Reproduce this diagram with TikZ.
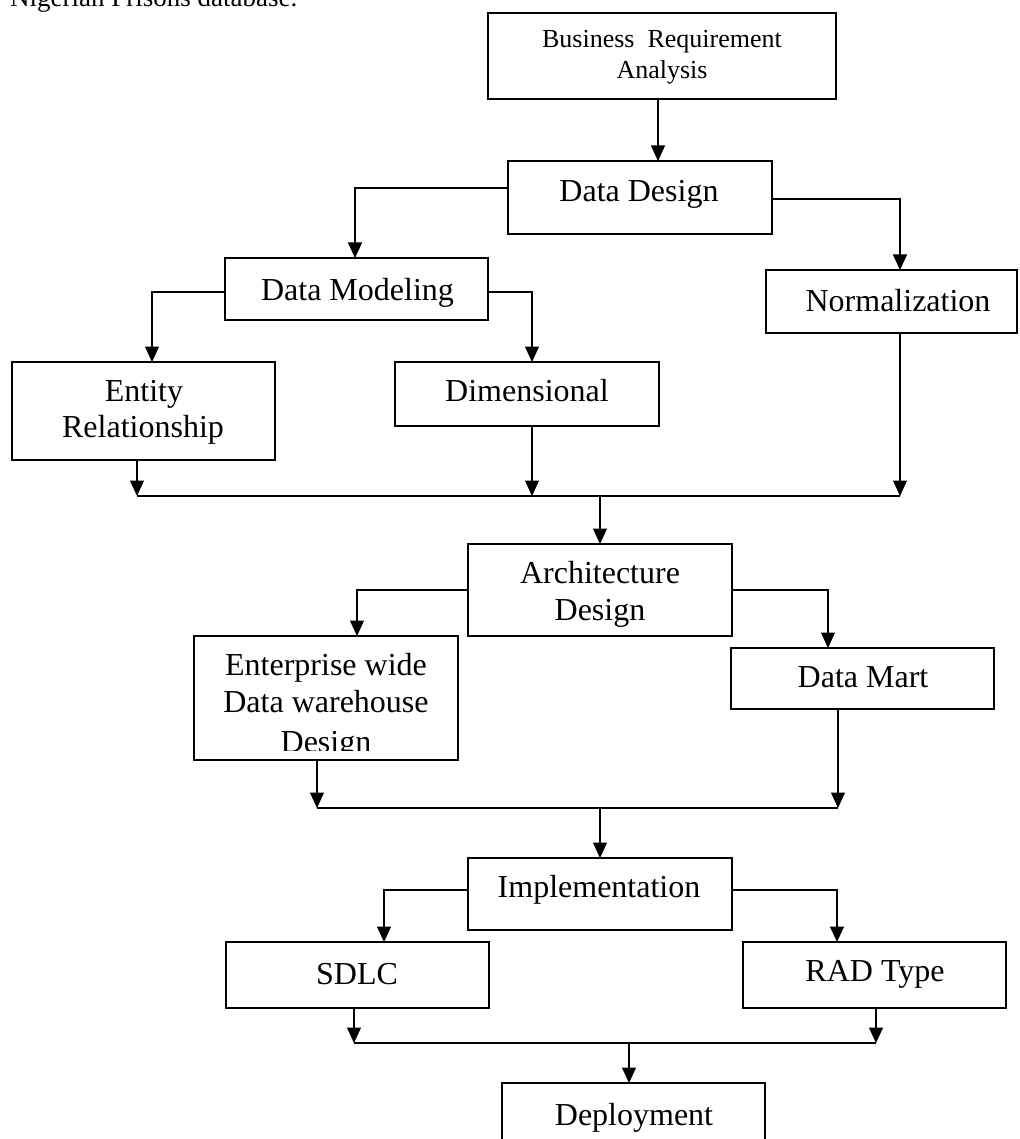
\documentclass[tikz,border=0pt]{standalone}
\usepackage{fontspec}
\setmainfont{Liberation Serif}
\usetikzlibrary{arrows.meta}
\tikzset{
  box/.style={draw, line width=1.3pt, inner sep=0pt, outer sep=0pt},
  lbl/.style={font=\fontsize{32}{37}\selectfont, inner sep=0pt, anchor=base},
  lblsm/.style={font=\fontsize{26}{31}\selectfont, inner sep=0pt, anchor=base},
  conn/.style={line width=1.2pt},
  arr/.style={conn, -{Triangle[length=15.5pt,width=14pt]}},
}
\begin{document}
\begin{tikzpicture}[x=1pt,y=-1pt]
\useasboundingbox (0,0) rectangle (1019,1139);
\clip (0,0) rectangle (1019,1139);

% intro text (clipped at top, as in the reference)
\node[font=\fontsize{27}{32}\selectfont, anchor=base west, inner sep=0pt] (intro) at (10,7) {Nigerian Prisons database.};

% boxes
\node[box, minimum width=348pt, minimum height=86pt] (bra) at (662,56) {};
\node[box, minimum width=264pt, minimum height=73pt] (dd) at (640,197.5) {};
\node[box, minimum width=263pt, minimum height=62pt] (dm) at (356.5,289) {};
\node[box, minimum width=251pt, minimum height=63pt] (norm) at (891.5,301.5) {};
\node[box, minimum width=263pt, minimum height=98pt] (er) at (143.5,411) {};
\node[box, minimum width=264pt, minimum height=64pt] (dim) at (527,394) {};
\node[box, minimum width=264pt, minimum height=92pt] (arch) at (600,590) {};
\node[box, minimum width=264pt, minimum height=124pt] (edw) at (326,698) {};
\node[box, minimum width=263pt, minimum height=61pt] (dmart) at (862.5,678.5) {};
\node[box, minimum width=264pt, minimum height=72pt] (impl) at (600,894) {};
\node[box, minimum width=263pt, minimum height=66pt] (sdlc) at (357.5,975) {};
\node[box, minimum width=263pt, minimum height=66pt] (rad) at (874.5,975) {};
\node[box, minimum width=263pt, minimum height=77pt] (dep) at (633.5,1121.5) {};

% texts
\node[lblsm] (bra-t1) at (662,48) {Business\ \ Requirement};
\node[lblsm] (bra-t2) at (662,79) {Analysis};
\node[lbl] (dd-t) at (639,202) {Data Design};
\node[lbl] (dm-t) at (357.5,300) {Data Modeling};
\node[lbl] (norm-t) at (898,311) {Normalization};
\node[lbl] (er-t1) at (144,401) {Entity};
\node[lbl] (er-t2) at (143,437) {Relationship};
\node[lbl] (dim-t) at (527,401) {Dimensional};
\node[lbl] (arch-t1) at (600,583) {Architecture};
\node[lbl] (arch-t2) at (600,620) {Design};
\node[lbl] (edw-t1) at (326,675) {Enterprise wide};
\node[lbl] (edw-t2) at (326,712) {Data warehouse};
\begin{scope}
  \clip (194,636) rectangle (458,750);
  \node[lbl] (edw-t3) at (326,752) {Design};
\end{scope}
\node[lbl] (dmart-t) at (863,687) {Data Mart};
\node[lbl] (impl-t) at (599,897) {Implementation};
\node[lbl] (sdlc-t) at (357,984) {SDLC};
\node[lbl] (rad-t) at (875,981) {RAD Type};
\node[lbl] (dep-t) at (634,1125) {Deployment};

% bus coordinates
\coordinate (b1l) at (137,496);
\coordinate (b1r) at (900,496);
\coordinate (b2l) at (317,808);
\coordinate (b2r) at (838,808);
\coordinate (b3l) at (354,1043);
\coordinate (b3r) at (876,1043);

% connectors
\draw[arr] ([xshift=-4pt]bra.south) -- ([xshift=-4pt]bra.south |- dd.north);
\draw[arr] ([yshift=9.5pt]dd.west) -| ([xshift=-1.5pt]dm.north);
\draw[arr] ([yshift=-1.5pt]dd.east) -| ([xshift=8.5pt]norm.north);
\draw[arr] ([yshift=-3pt]dm.west) -| ([xshift=8.5pt]er.north);
\draw[arr] ([yshift=-3pt]dm.east) -| ([xshift=5pt]dim.north);

\draw[arr] ([xshift=-6.5pt]er.south) -- ([xshift=-6.5pt]er.south |- b1l);
\draw[arr] ([xshift=5pt]dim.south) -- ([xshift=5pt]dim.south |- b1l);
\draw[arr] ([xshift=8.5pt]norm.south) -- ([xshift=8.5pt]norm.south |- b1l);
\draw[conn] (b1l) -- (b1r);
\draw[arr] (arch.north |- b1l) -- (arch.north);

\draw[arr] (arch.west) -| ([xshift=31pt]edw.north);
\draw[arr] (arch.east) -| ([xshift=-34.5pt]dmart.north);

\draw[arr] ([xshift=-9pt]edw.south) -- ([xshift=-9pt]edw.south |- b2l);
\draw[arr] ([xshift=-24.5pt]dmart.south) -- ([xshift=-24.5pt]dmart.south |- b2l);
\draw[conn] (b2l) -- (b2r);
\draw[arr] (impl.north |- b2l) -- (impl.north);

\draw[arr] ([yshift=4pt]impl.west) -| ([xshift=26.5pt]sdlc.north);
\draw[arr] ([yshift=4pt]impl.east) -| ([xshift=-37.5pt]rad.north);

\draw[arr] ([xshift=-3.5pt]sdlc.south) -- ([xshift=-3.5pt]sdlc.south |- b3l);
\draw[arr] ([xshift=1.5pt]rad.south) -- ([xshift=1.5pt]rad.south |- b3l);
\draw[conn] (b3l) -- (b3r);
\draw[arr] ([xshift=-4.5pt]dep.north |- b3l) -- ([xshift=-4.5pt]dep.north);
\end{tikzpicture}
\end{document}
